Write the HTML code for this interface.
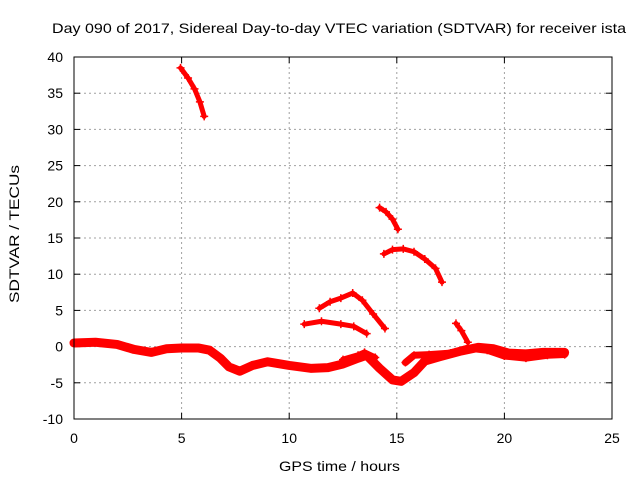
<!DOCTYPE html>
<html><head><meta charset="utf-8"><style>
body{margin:0;background:#fff}
svg{display:block;font-family:"Liberation Sans",sans-serif}
</style></head><body>
<svg id="chart" width="640" height="480" viewBox="0 0 640 480">
<text x="52" y="33" font-size="14" textLength="574" lengthAdjust="spacingAndGlyphs">Day 090 of 2017, Sidereal Day-to-day VTEC variation (SDTVAR) for receiver ista</text>
<text transform="translate(19,303) rotate(-90)" font-size="14" textLength="138" lengthAdjust="spacingAndGlyphs">SDTVAR / TECUs</text>
<text x="279" y="471" font-size="14" textLength="121" lengthAdjust="spacingAndGlyphs">GPS time / hours</text>
<g id="grid"></g>
<g id="ticks"></g>
<g id="series"></g>
<rect x="74" y="57" width="538" height="362" fill="none" stroke="#000" stroke-width="1"/>
</svg>
<script>
const xTicks=[0,5,10,15,20,25];
const yTicks=[-10,-5,0,5,10,15,20,25,30,35,40];
const arcHigh=[[4.95,38.5],[5.3,37.1],[5.6,35.6],[5.85,33.8],[6.05,31.8]];
const arcB=[[14.2,19.2],[14.5,18.6],[14.8,17.6],[15.05,16.2]];
const arcC=[[14.4,12.8],[14.8,13.4],[15.3,13.5],[15.8,13.1],[16.3,12.1],[16.8,10.8],[17.1,8.9]];
const arcD=[[11.4,5.3],[11.9,6.2],[12.4,6.7],[12.95,7.4],[13.4,6.4],[13.9,4.5],[14.45,2.5]];
const arcE=[[10.7,3.1],[11.5,3.5],[12.4,3.1],[13.0,2.8],[13.6,1.8]];
const arcF=[[17.75,3.2],[18.0,2.2],[18.3,0.6]];
const mainBand=[[0,0.5],[1,0.6],[2,0.3],[2.8,-0.4],[3.6,-0.8],[4.3,-0.3],[5,-0.2],[5.8,-0.2],[6.3,-0.5],[6.8,-1.6],[7.2,-2.8],[7.7,-3.4],[8.3,-2.6],[9,-2.1],[10,-2.6],[11,-3.0],[11.8,-2.9],[12.5,-2.4],[13.2,-1.6],[13.6,-1.2],[14.2,-3.0],[14.8,-4.6],[15.2,-4.8],[15.8,-3.6],[16.3,-2.0],[17,-1.4],[18,-0.6],[18.8,-0.1],[19.5,-0.3],[20.2,-0.9],[21,-1.0],[21.8,-0.8],[22.8,-0.8]];
const upperLoop=[[12.5,-1.8],[13.2,-1.2],[13.5,-0.8],[14.0,-1.5]];
const loopUpper=[[15.4,-2.2],[15.8,-1.2],[16.5,-1.1],[17.5,-0.9],[18.3,-0.2],[19.2,-0.5],[20,-1.3],[21,-1.6],[22,-1.2],[22.8,-1.1]];
const allSeries=[arcHigh,arcB,arcC,arcD,arcE,arcF,mainBand,upperLoop,loopUpper];
const seriesNames=['arc-high','arc-b','arc-c','arc-d','arc-e','arc-f','main-band','upper-loop','loop-upper'];
const seriesWidths=[5,5,5,5,5,5,9,6,7];

const X0=74,X1=612,Y0=419,Y1=57,xmin=0,xmax=25,ymin=-10,ymax=40;
const sx=v=>X0+(v-xmin)/(xmax-xmin)*(X1-X0);
const sy=v=>Y0-(v-ymin)/(ymax-ymin)*(Y0-Y1);
const NS='http://www.w3.org/2000/svg';
const mk=(t,a,p)=>{const e=document.createElementNS(NS,t);for(const k in a)e.setAttribute(k,a[k]);p.appendChild(e);return e;};
const grid=document.getElementById('grid'),ticks=document.getElementById('ticks'),ser=document.getElementById('series');
xTicks.forEach(v=>{const x=sx(v);
 if(v>xmin&&v<xmax){const l=mk('line',{x1:x,x2:x,y1:Y0,y2:Y1,stroke:'#a0a0a0','stroke-dasharray':'2,3'},grid);
 
 }
 const t1=mk('line',{x1:x,x2:x,y1:Y0,y2:Y0-6,stroke:'#000'},ticks);
 
 
 const t2=mk('line',{x1:x,x2:x,y1:Y1,y2:Y1+6,stroke:'#000'},ticks);
 
 
 const tx=mk('text',{x:x,y:443,'font-size':14,'text-anchor':'middle'},ticks);tx.textContent=v;
 
 });
yTicks.forEach(v=>{const y=sy(v);
 if(v>ymin&&v<ymax){const l=mk('line',{x1:X0,x2:X1,y1:y,y2:y,stroke:'#a0a0a0','stroke-dasharray':'2,3'},grid);
 
 }
 const t1=mk('line',{x1:X0,x2:X0+6,y1:y,y2:y,stroke:'#000'},ticks);
 
 
 const t2=mk('line',{x1:X1,x2:X1-6,y1:y,y2:y,stroke:'#000'},ticks);
 
 
 const tx=mk('text',{x:63,y:y+5,'font-size':14,'text-anchor':'end'},ticks);tx.textContent=v;
 
 });
allSeries.forEach((s,i)=>{
 const g=mk('g',{},ser);
 
 
 const pl=mk('polyline',{points:s.map(p=>sx(p[0])+','+sy(p[1])).join(' '),fill:'none',stroke:'#ff0000','stroke-width':seriesWidths[i],'stroke-linecap':'round','stroke-linejoin':'round'},g);
 
 
 s.forEach(p=>{const x=sx(p[0]),y=sy(p[1]);
  const m=mk('path',{d:`M${x-4},${y}H${x+4}M${x},${y-4}V${y+4}`,stroke:'#ff0000','stroke-width':1.5},g);
  
  });
});
</script>
</body></html>
